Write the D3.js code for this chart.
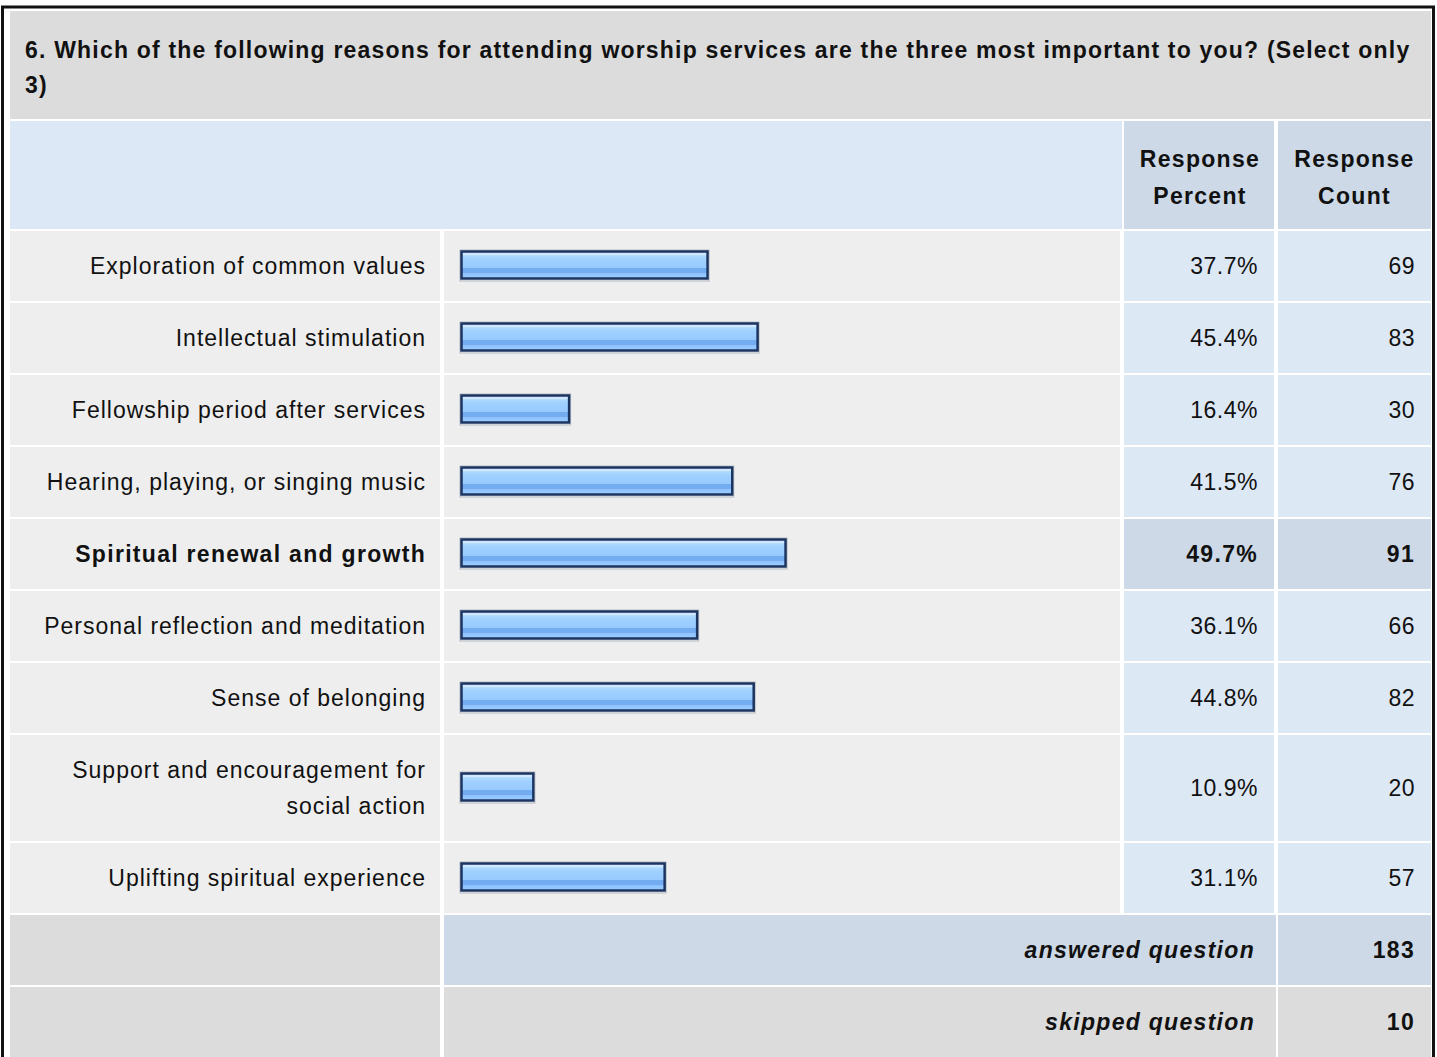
<!DOCTYPE html>
<html>
<head>
<meta charset="utf-8">
<script src="https://cdn.jsdelivr.net/npm/d3@7"></script>
<style>
  body { margin: 0; background: #fff; }
  text { font-family: "Liberation Sans", Arial, sans-serif; font-size: 23px; letter-spacing: 1px; fill: #111; }
  text.num { letter-spacing: 0.5px; }
  text.bold { font-weight: bold; letter-spacing: 1.3px; }
  text.title { font-weight: bold; letter-spacing: 1.2px; }
  .italic { font-style: italic; }
</style>
</head>
<body>
<div id="chart"></div>
<script>
let question = "6. Which of the following reasons for attending worship services are the three most important to you? (Select only 3)";
let answerOptions = [
  "Exploration of common values",
  "Intellectual stimulation",
  "Fellowship period after services",
  "Hearing, playing, or singing music",
  "Spiritual renewal and growth",
  "Personal reflection and meditation",
  "Sense of belonging",
  "Support and encouragement for social action",
  "Uplifting spiritual experience"
];
let responsePercent = [37.7, 45.4, 16.4, 41.5, 49.7, 36.1, 44.8, 10.9, 31.1];
let responseCount = [69, 83, 30, 76, 91, 66, 82, 20, 57];
let headerLabels = [["Response", "Percent"], ["Response", "Count"]];
let footerLabels = ["answered question", "skipped question"];
let footerValues = [183, 10];

drawSurvey();

function drawSurvey() {
    let W = 1437, H = 1057;
    let gap = 2, lineH = 36;
    // column edges: label, bar, percent, count
    let cols = [[10, 442], [444, 1122], [1124, 1276], [1278, 1431]];
    let pad = 17;

    let svg = d3.select("#chart").append("svg")
        .attr("width", W)
        .attr("height", H);

    // bar gradient
    let grad = svg.append("defs").append("linearGradient")
        .attr("id", "barGrad")
        .attr("x1", 0).attr("y1", 0).attr("x2", 0).attr("y2", 1);
    [[0, "#cfe7ff"], [0.14, "#cfe7ff"], [0.15, "#addaff"], [0.3, "#9fd0ff"], [0.6, "#98caff"],
     [0.61, "#74acf2"], [0.8, "#74acf2"], [0.81, "#8ec3ff"], [1, "#9bcdff"]].forEach(function(s) {
        grad.append("stop").attr("offset", s[0]).attr("stop-color", s[1]);
    });

    // outer frame
    svg.append("rect")
        .attr("x", 2.5).attr("y", 7)
        .attr("width", 1431).attr("height", H)
        .attr("fill", "none")
        .attr("stroke", "#111")
        .attr("stroke-width", 3);

    function wrap(str, maxW, cls) {
        let words = str.split(" ");
        let lines = [];
        let cur = "";
        let probe = svg.append("text").attr("class", cls);
        words.forEach(function(w) {
            let t = cur ? cur + " " + w : w;
            probe.text(t);
            if (probe.node().getComputedTextLength() > maxW && cur) {
                lines.push(cur);
                cur = w;
            } else {
                cur = t;
            }
        });
        lines.push(cur);
        probe.remove();
        return lines;
    }

    // title
    let titleTop = 11, titleH = 108;
    svg.append("rect")
        .attr("x", cols[0][0]).attr("y", titleTop)
        .attr("width", cols[3][1] - cols[0][0]).attr("height", titleH)
        .attr("fill", "#dcdcdc");
    let titleLines = wrap(question, cols[3][1] - 25, "title");
    svg.append("text")
        .attr("class", "title")
        .selectAll("tspan")
        .data(titleLines)
        .enter().append("tspan")
        .attr("x", 25)
        .attr("y", function(d, i) { return 58 + i * 35; })
        .text(function(d) { return d; });

    // header row
    let headTop = titleTop + titleH + gap, headH = 108;
    svg.append("rect")
        .attr("x", cols[0][0]).attr("y", headTop)
        .attr("width", cols[2][0] - gap - cols[0][0]).attr("height", headH)
        .attr("fill", "#dce8f5");
    headerLabels.forEach(function(lbl, k) {
        let c = cols[k + 2];
        svg.append("rect")
            .attr("x", c[0]).attr("y", headTop)
            .attr("width", c[1] - c[0] - (k == 0 ? gap : 0)).attr("height", headH)
            .attr("fill", "#cdd9e6");
        svg.append("text")
            .attr("class", "bold")
            .attr("text-anchor", "middle")
            .selectAll("tspan")
            .data(lbl)
            .enter().append("tspan")
            .attr("x", (c[0] + c[1] - gap) / 2 + 1)
            .attr("y", function(d, i) { return headTop + 46 + i * 37; })
            .text(function(d) { return d; });
    });

    // data rows
    let labelLines = answerOptions.map(function(d) {
        return wrap(d, cols[0][1] - cols[0][0] - 2 * pad - 2, "");
    });
    let rowTops = [];
    let y0 = headTop + headH + gap;
    labelLines.forEach(function(l) {
        let h = lineH + l.length * lineH;
        rowTops.push({ y: y0, h: h - gap });
        y0 += h;
    });

    let maxPct = d3.max(responsePercent);
    let x = d3.scaleLinear().domain([0, 100]).range([0, 650]);

    let rows = svg.selectAll("g.row")
        .data(answerOptions)
        .enter().append("g")
        .attr("class", "row")
        .attr("transform", function(d, i) { return "translate(0," + rowTops[i].y + ")"; });

    rows.each(function(d, i) {
        let g = d3.select(this);
        let h = rowTops[i].h;
        let hi = responsePercent[i] == maxPct;
        cols.forEach(function(c, k) {
            g.append("rect")
                .attr("x", c[0]).attr("y", 0)
                .attr("width", c[1] - c[0] - (k < 3 ? gap : 0)).attr("height", h)
                .attr("fill", k < 2 ? "#eeeeee" : (hi ? "#cdd9e6" : "#dde8f5"));
        });
        let cy = h / 2;
        let ll = labelLines[i];
        g.append("text")
            .attr("class", hi ? "bold" : null)
            .attr("text-anchor", "end")
            .selectAll("tspan")
            .data(ll)
            .enter().append("tspan")
            .attr("x", cols[0][1] - pad + 1)
            .attr("y", function(t, j) { return cy + 8 + (j - (ll.length - 1) / 2) * lineH; })
            .text(function(t) { return t; });

        // bar
        let bw = x(responsePercent[i]) + 3;
        g.append("rect")
            .attr("x", 460).attr("y", cy - 16)
            .attr("width", bw + 1).attr("height", 31)
            .attr("fill", "none")
            .attr("stroke", "#8a97a8")
            .attr("stroke-opacity", 0.6)
            .attr("stroke-width", 1);
        g.append("rect")
            .attr("x", 461.5).attr("y", cy - 14.5)
            .attr("width", bw - 2).attr("height", 27)
            .attr("fill", "url(#barGrad)")
            .attr("stroke", "#1c3560")
            .attr("stroke-width", 2.5);

        g.append("text")
            .attr("class", hi ? "bold" : "num")
            .attr("text-anchor", "end")
            .attr("x", cols[2][1] - gap - pad + 1)
            .attr("y", cy + 8)
            .text(responsePercent[i].toFixed(1) + "%");
        g.append("text")
            .attr("class", hi ? "bold" : "num")
            .attr("text-anchor", "end")
            .attr("x", cols[3][1] - pad + 1)
            .attr("y", cy + 8)
            .text(responseCount[i]);
    });

    // footer rows
    footerLabels.forEach(function(lbl, k) {
        let top = y0 + k * 72;
        let h = 70;
        let fill = k == 0 ? "#cdd9e6" : "#dcdcdc";
        svg.append("rect")
            .attr("x", cols[0][0]).attr("y", top)
            .attr("width", cols[0][1] - cols[0][0] - gap).attr("height", h)
            .attr("fill", "#dcdcdc");
        svg.append("rect")
            .attr("x", cols[1][0]).attr("y", top)
            .attr("width", cols[3][0] - gap - cols[1][0]).attr("height", h)
            .attr("fill", fill);
        svg.append("rect")
            .attr("x", cols[3][0]).attr("y", top)
            .attr("width", cols[3][1] - cols[3][0]).attr("height", h)
            .attr("fill", fill);
        svg.append("text")
            .attr("class", "bold italic")
            .attr("text-anchor", "end")
            .attr("x", cols[2][1] - gap - pad - 2)
            .attr("y", top + h / 2 + 8)
            .text(lbl);
        svg.append("text")
            .attr("class", "bold")
            .attr("text-anchor", "end")
            .attr("x", cols[3][1] - pad + 1)
            .attr("y", top + h / 2 + 8)
            .text(footerValues[k]);
    });
}
</script>
</body>
</html>
